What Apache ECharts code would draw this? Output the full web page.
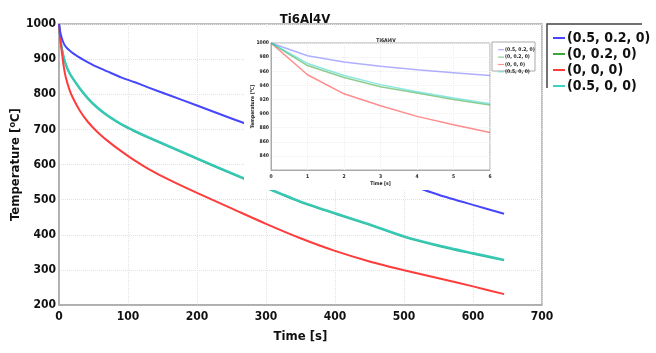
<!DOCTYPE html>
<html>
<head>
<meta charset="utf-8">
<script src="https://cdn.jsdelivr.net/npm/echarts@6/dist/echarts.min.js"></script>
<style>html,body{margin:0;padding:0;background:#fff}#c{width:656px;height:353px}</style>
</head>
<body>
<div id="c"></div>
<script>
// ---- data ----
const seriesNames = ['(0.5, 0.2, 0)', '(0, 0.2, 0)', '(0, 0, 0)', '(0.5, 0, 0)'];
const mainTime = [0, 2, 4, 7, 10, 15, 20, 30, 42, 56, 70, 90, 110, 130, 160, 200, 250, 300, 350, 400, 450, 500, 550, 600, 645];
const mainBlue = [1000, 975, 960, 944, 935, 925, 917, 904, 891, 877, 865, 848, 834, 819, 797, 768, 731, 695, 658, 621, 583, 548, 514, 485, 460];
const mainGreen = [1000, 956, 931, 903, 883, 860, 844, 816, 787, 760, 739, 714, 694, 676, 650, 616, 574, 533, 493, 460, 428, 394, 368, 346, 327];
const mainRed = [1000, 955, 922, 877, 847, 814, 790, 754, 721, 692, 668, 638, 611, 587, 556, 519, 475, 431, 390, 354, 324, 299, 276, 253, 231];
const mainTeal = [1000, 958, 933, 905, 885, 862, 846, 818, 789, 762, 741, 716, 696, 678, 652, 618, 576, 535, 495, 462, 430, 396, 370, 348, 329];

const insetTime = [0, 1, 2, 3, 4, 5, 6];
const insetBlue = [1000, 982, 973, 967, 962, 958, 954];
const insetGreen = [1000, 968, 951, 938, 929, 920, 912];
const insetRed = [1000, 955, 928, 911, 896, 884, 873];
const insetTeal = [1000, 971, 954, 941, 931, 922, 914];

// ---- styling ----
const FF = '"DejaVu Sans Condensed", "DejaVu Sans", sans-serif';
const colors = ['#4646ff', '#3aa83a', '#ff3c3c', '#3cd2c8'];
const mainLineColors = ['#4646ff', '#2fb99a', '#ff3c3c', '#36c9b6'];
const insetColors = ['rgba(110,110,255,0.55)', 'rgba(70,170,70,0.6)', 'rgba(255,80,80,0.65)', 'rgba(60,215,205,0.6)'];

const pair = (xs, ys) => xs.map((x, i) => [x, ys[i]]);
const mainData = [mainBlue, mainGreen, mainRed, mainTeal];
const insetData = [insetBlue, insetGreen, insetRed, insetTeal];
const plain = v => String(v);

const series = [];
[1, 3, 2, 0].forEach(k => {
  series.push({
    name: seriesNames[k], type: 'line', xAxisIndex: 0, yAxisIndex: 0,
    data: pair(mainTime, mainData[k]), showSymbol: false, smooth: 0.25,
    lineStyle: { color: mainLineColors[k], width: 2 }, itemStyle: { color: colors[k] }, z: 2
  });
});
[0, 2, 1, 3].forEach(k => {
  series.push({
    name: seriesNames[k], type: 'line', xAxisIndex: 1, yAxisIndex: 1,
    data: pair(insetTime, insetData[k]), showSymbol: false,
    lineStyle: { color: insetColors[k], width: 1.5 }, itemStyle: { color: insetColors[k] }, z: 12
  });
});

const chart = echarts.init(document.getElementById('c'), null, { renderer: 'canvas' });
chart.setOption({
  animation: false,
  backgroundColor: '#fff',
  textStyle: { fontFamily: FF },
  title: [
    { text: 'Ti6Al4V', left: 300, top: 8, textAlign: 'center',
      textStyle: { fontFamily: FF, fontSize: 13, fontWeight: 'bold', color: '#111' } },
    { text: 'Ti6Al4V', left: 381, top: 33, textAlign: 'center', z: 12,
      textStyle: { fontFamily: FF, fontSize: 5, fontWeight: 'bold', color: '#222' } }
  ],
  grid: [
    { left: 59, top: 24, width: 483, height: 281, show: true, borderColor: '#aaa', borderWidth: 1.5, z: 0,
      containLabel: false, outerBoundsMode: 'none' },
    { left: 271, top: 43, width: 219, height: 127, show: true, borderColor: '#aaa', borderWidth: 1, backgroundColor: '#fff', z: 10,
      containLabel: false, outerBoundsMode: 'none' }
  ],
  xAxis: [
    { type: 'value', gridIndex: 0, min: 0, max: 700, interval: 100,
      name: 'Time [s]', nameLocation: 'middle', nameGap: 25, nameMoveOverlap: false,
      nameTextStyle: { fontFamily: FF, fontSize: 13, fontWeight: 'bold', color: '#111' },
      axisLine: { lineStyle: { color: '#aaa', width: 1.5 } },
      axisTick: { show: false },
      axisLabel: { fontFamily: FF, fontSize: 12, fontWeight: 'bold', color: '#111', margin: 6, formatter: plain },
      splitLine: { show: true, lineStyle: { color: '#e2e2e2', type: 'dotted' } } },
    { type: 'value', gridIndex: 1, min: 0, max: 6, interval: 1, z: 12,
      name: 'Time [s]', nameLocation: 'middle', nameGap: 11, nameMoveOverlap: false,
      nameTextStyle: { fontFamily: FF, fontSize: 5, fontWeight: 'bold', color: '#222' },
      axisLine: { lineStyle: { color: '#aaa', width: 1 } },
      axisTick: { show: false },
      axisLabel: { fontFamily: FF, fontSize: 5, fontWeight: 'bold', color: '#222', margin: 4, formatter: plain },
      splitLine: { show: true, lineStyle: { color: '#eee', type: 'dotted' } } }
  ],
  yAxis: [
    { type: 'value', gridIndex: 0, min: 200, max: 1000, interval: 100,
      name: 'Temperature [{s|o}C]', nameLocation: 'middle', nameGap: 35, nameRotate: 90, nameMoveOverlap: false,
      nameTextStyle: { fontFamily: FF, fontSize: 13, fontWeight: 'bold', color: '#111',
        rich: { s: { fontFamily: FF, fontSize: 9, fontWeight: 'bold', color: '#111', padding: [0, 0, 7, 0] } } },
      axisLine: { lineStyle: { color: '#aaa', width: 1.5 } },
      axisTick: { show: false },
      axisLabel: { fontFamily: FF, fontSize: 12, fontWeight: 'bold', color: '#111', margin: 3, formatter: plain },
      splitLine: { show: true, lineStyle: { color: '#e2e2e2', type: 'dotted' } } },
    { type: 'value', gridIndex: 1, min: 820, max: 1000, interval: 20, z: 12,
      name: 'Temperature [{s|o}C]', nameLocation: 'middle', nameGap: 15, nameRotate: 90, nameMoveOverlap: false,
      nameTextStyle: { fontFamily: FF, fontSize: 5, fontWeight: 'bold', color: '#222',
        rich: { s: { fontFamily: FF, fontSize: 3.5, fontWeight: 'bold', color: '#222', padding: [0, 0, 3, 0] } } },
      axisLine: { lineStyle: { color: '#aaa', width: 1 } },
      axisTick: { show: false },
      axisLabel: { fontFamily: FF, fontSize: 5, fontWeight: 'bold', color: '#222', margin: 2, showMinLabel: false, formatter: plain },
      splitLine: { show: true, lineStyle: { color: '#eee', type: 'dotted' } } }
  ],
  legend: [
    { orient: 'vertical', left: 548, top: 25, itemWidth: 12, itemHeight: 2, itemGap: 0, icon: 'rect',
      selectedMode: false,
      data: seriesNames.map((n, k) => ({ name: n, itemStyle: { color: colors[k] } })),
      textStyle: { fontFamily: FF, fontSize: 14, fontWeight: 'bold', color: '#111', lineHeight: 16, padding: [0, 0, 0, -3] } },
    { orient: 'vertical', left: 493, top: 41, itemWidth: 6, itemHeight: 1.2, itemGap: 0, icon: 'rect', z: 14,
      selectedMode: false,
      data: seriesNames.map((n, k) => ({ name: n, itemStyle: { color: insetColors[k] } })),
      textStyle: { fontFamily: FF, fontSize: 5, fontWeight: 'bold', color: '#222', lineHeight: 7.4, padding: [0, 0, 0, -4] } }
  ],
  graphic: [
    { type: 'rect', z: 5, shape: { x: 244, y: 27, width: 297, height: 163 }, style: { fill: '#fff' } },
    { type: 'rect', z: 13, shape: { x: 492, y: 42, width: 43, height: 29 }, style: { fill: '#fff', stroke: '#aaa', lineWidth: 1 } },
    { type: 'polyline', z: 5, shape: { points: [[547, 88], [547, 24], [642, 24]] }, style: { stroke: '#444', lineWidth: 1.5, fill: null } }
  ],
  series: series
});
</script>
</body>
</html>
